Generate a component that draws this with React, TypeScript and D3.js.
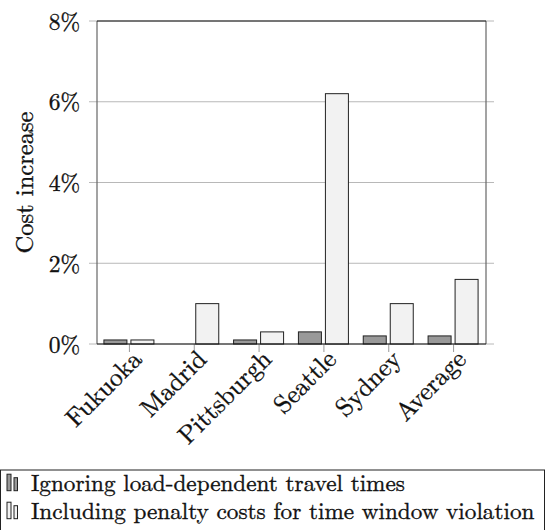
import React from "react";
import * as d3 from "d3";

const categories = ["Fukuoka", "Madrid", "Pittsburgh", "Seattle", "Sydney", "Average"];
const ignoringLoad = [0.1, 0, 0.1, 0.3, 0.2, 0.2];
const includingPenalty = [0.1, 1.0, 0.3, 6.2, 1.0, 1.6];
const yTicks = [0, 2, 4, 6, 8];
const seriesNames = [
  "Ignoring load-dependent travel times",
  "Including penalty costs for time window violation",
];
const seriesFills = ["#999999", "#f2f2f2"];

const W = 547;
const H = 530;
const left = 97;
const right = 486;
const top = 21;
const bottom = 344;
const FONT = "'Latin Modern Roman', 'Liberation Serif', serif";
const tStyle = { fontFamily: FONT } as React.CSSProperties;
const TS = 0.35;

export default function App() {
  const x = d3.scaleBand<string>().domain(categories).range([left, right]);
  const y = d3.scaleLinear().domain([0, 8]).range([bottom, top]);
  const bw = 23;
  const series = [ignoringLoad, includingPenalty];
  const offsets = [-25.5, 1.5];

  return (
    <svg
      width={W}
      height={H}
      style={{ position: "absolute", left: 0, top: 0, background: "#fff", fontFamily: FONT }}
    >
      {yTicks.map((t) => (
        <line
          key={"g" + t}
          x1={left - 8}
          x2={right + 8}
          y1={y(t)}
          y2={y(t)}
          stroke="#b8b8b8"
          strokeWidth={1}
        />
      ))}
      {yTicks.map((t) => (
        <text
          key={"yl" + t}
          x={80}
          y={y(t) + 8.5}
          textAnchor="end"
          fontSize={23.5}
          fill="#111"
          stroke="#111"
          strokeWidth={TS}
          style={tStyle}
        >
          {t + "%"}
        </text>
      ))}
      {categories.map((c) => (
        <line
          key={"xt" + c}
          x1={x(c)! + x.bandwidth() / 2}
          x2={x(c)! + x.bandwidth() / 2}
          y1={bottom}
          y2={bottom + 8}
          stroke="#999"
          strokeWidth={1}
        />
      ))}
      {series.map((vals, si) =>
        vals.map((v, i) =>
          v > 0 ? (
            <rect
              key={"b" + si + "-" + i}
              x={x(categories[i])! + x.bandwidth() / 2 + offsets[si]}
              y={y(v)}
              width={bw}
              height={y(0) - y(v)}
              fill={seriesFills[si]}
              stroke="#222"
              strokeWidth={1}
            />
          ) : null
        )
      )}
      <line x1={left} x2={left} y1={top} y2={bottom} stroke="#666" strokeWidth={1.2} />
      <line x1={right} x2={right} y1={top} y2={bottom} stroke="#666" strokeWidth={1.2} />
      <line x1={left} x2={right} y1={top} y2={top} stroke="#111" strokeWidth={1.2} />
      <line x1={left} x2={right} y1={bottom} y2={bottom} stroke="#111" strokeWidth={1.2} />
      {categories.map((c) => (
        <text
          key={"xl" + c}
          transform={`translate(${x(c)! + x.bandwidth() / 2 + 3},${bottom + 6}) rotate(-45)`}
          textAnchor="end"
          dy="0.6em"
          fontSize={25.5}
          fill="#111"
          stroke="#111"
          strokeWidth={TS}
          style={tStyle}
        >
          {c}
        </text>
      ))}
      <text
        transform={`translate(33,${(top + bottom) / 2}) rotate(-90)`}
        textAnchor="middle"
        fontSize={24.5}
        fill="#111"
        stroke="#111"
        strokeWidth={TS}
        style={tStyle}
      >
        Cost increase
      </text>
      <rect x={0.5} y={470} width={544} height={80} fill="#fff" stroke="#222" strokeWidth={1} />
      {seriesNames.map((name, i) => {
        const base = 490.7 + i * 28;
        return (
          <g key={"lg" + i}>
            <rect x={7} y={base - 16.5} width={4} height={16.5} fill={seriesFills[i]} stroke="#222" strokeWidth={1} />
            <rect x={14} y={base - 13} width={3.5} height={13} fill={seriesFills[i]} stroke="#222" strokeWidth={1} />
            <text
              x={31}
              y={base}
              fontSize={23.2}
              fill="#111"
              stroke="#111"
              strokeWidth={TS}
              style={tStyle}
            >
              {name}
            </text>
          </g>
        );
      })}
    </svg>
  );
}
